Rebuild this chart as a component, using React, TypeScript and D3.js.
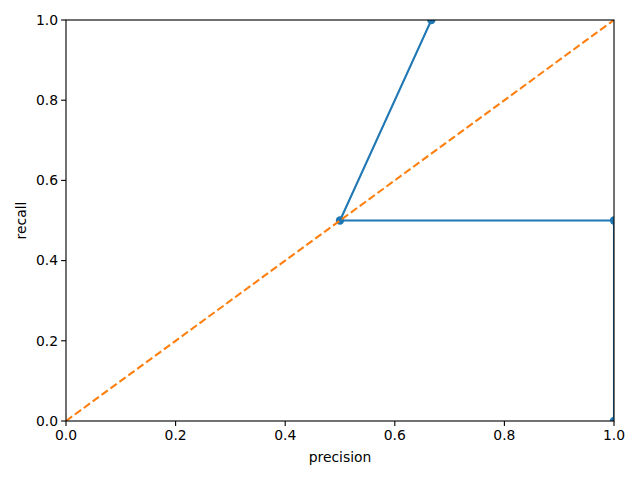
import React from "react";
import * as d3 from "d3";

const precision = [0.6667, 0.5, 1.0, 1.0];
const recall = [1.0, 0.5, 0.5, 0.0];
const diagX = [0, 1];
const diagY = [0, 1];
const xTicks = [0, 0.2, 0.4, 0.6, 0.8, 1.0];
const yTicks = [0, 0.2, 0.4, 0.6, 0.8, 1.0];

const W = 640, H = 480;
const L = 66, R = 614, T = 20, B = 421;

export default function App() {
  const x = d3.scaleLinear().domain([0, 1]).range([L, R]);
  const y = d3.scaleLinear().domain([0, 1]).range([B, T]);
  const pts = precision.map((p, i) => [p, recall[i]] as [number, number]);
  const line = d3.line<[number, number]>().x(d => x(d[0])).y(d => y(d[1]));
  const diag = diagX.map((v, i) => [v, diagY[i]] as [number, number]);
  const font = "'DejaVu Sans', sans-serif";
  return (
    <svg width={W} height={H} style={{ position: "absolute", left: 0, top: 0, background: "#fff" }}>
      <defs>
        <clipPath id="ax">
          <rect x={L} y={T} width={R - L} height={B - T} />
        </clipPath>
      </defs>
      <rect x={0} y={0} width={W} height={H} fill="#fff" />
      <g clipPath="url(#ax)">
        <path d={line(pts) || ""} fill="none" stroke="#1f77b4" strokeWidth={2.08} strokeLinejoin="round" strokeLinecap="square" />
        {pts.map((d, i) => (
          <circle key={i} cx={x(d[0])} cy={y(d[1])} r={4.2} fill="#1f77b4" />
        ))}
        <path d={line(diag) || ""} fill="none" stroke="#ff7f0e" strokeWidth={2.08} strokeDasharray="7.7,3.33" />
      </g>
      <rect x={L} y={T} width={R - L} height={B - T} fill="none" stroke="#000" strokeWidth={1.11} />
      {xTicks.map(t => (
        <g key={"x" + t}>
          <line x1={x(t)} x2={x(t)} y1={B} y2={B + 4.9} stroke="#000" strokeWidth={1.11} />
          <text x={x(t)} y={B + 19} textAnchor="middle" fontFamily={font} fontSize={13.9} fill="#000">{t.toFixed(1)}</text>
        </g>
      ))}
      {yTicks.map(t => (
        <g key={"y" + t}>
          <line x1={L - 4.9} x2={L} y1={y(t)} y2={y(t)} stroke="#000" strokeWidth={1.11} />
          <text x={L - 8} y={y(t)} dy="0.35em" textAnchor="end" fontFamily={font} fontSize={13.9} fill="#000">{t.toFixed(1)}</text>
        </g>
      ))}
      <text x={(L + R) / 2} y={462} textAnchor="middle" fontFamily={font} fontSize={13.9} fill="#000">precision</text>
      <text transform={`translate(26,${(T + B) / 2}) rotate(-90)`} textAnchor="middle" fontFamily={font} fontSize={13.9} fill="#000">recall</text>
    </svg>
  );
}
